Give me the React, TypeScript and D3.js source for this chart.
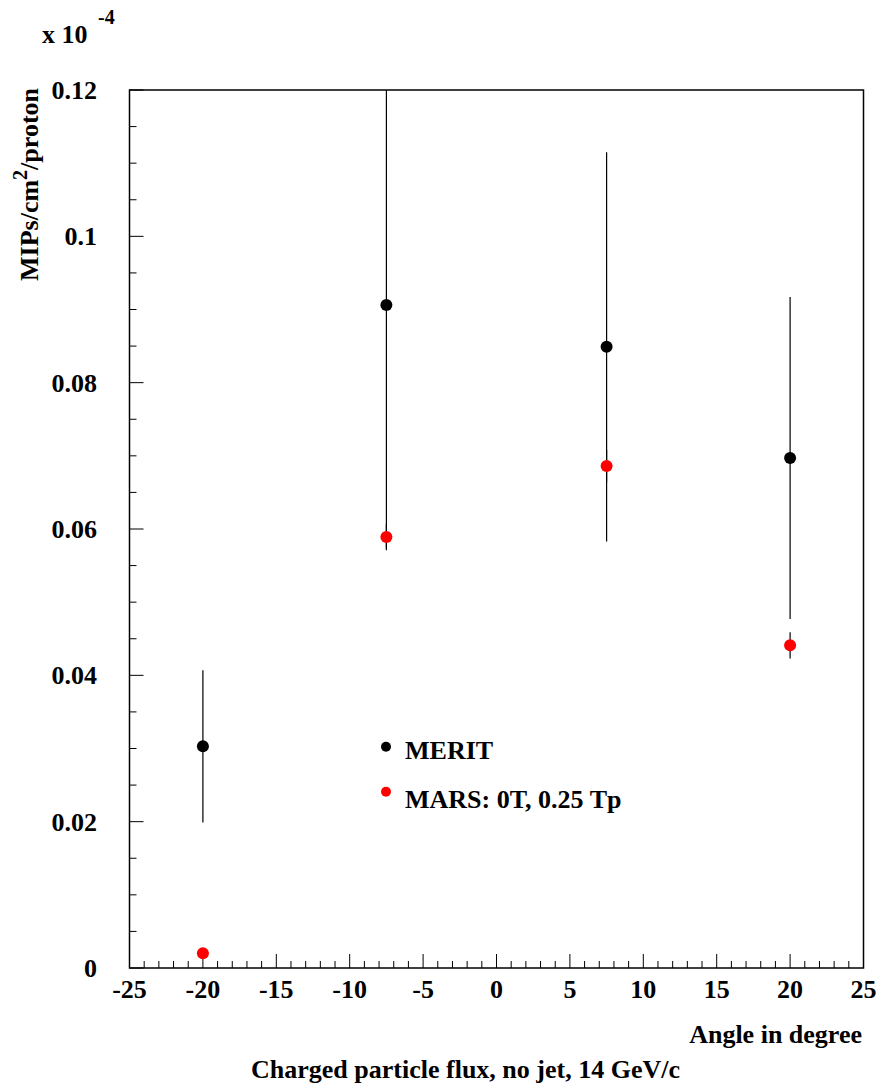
import React from "react";
import * as d3 from "d3";

const angles = [-20, -7.5, 7.5, 20];
const meritValues = [0.0303, 0.0906, 0.0849, 0.0697];
const meritErrors = [0.0104, 0.0333, 0.0266, 0.022];
const marsValues = [0.0020, 0.0589, 0.0686, 0.0441];
const marsErrors = [0.0003, 0.0018, 0.0022, 0.0018];
const xMajorTicks = [-25, -20, -15, -10, -5, 0, 5, 10, 15, 20, 25];
const yMajorTicks = [0, 0.02, 0.04, 0.06, 0.08, 0.1, 0.12];
const yTickLabels = ["0", "0.02", "0.04", "0.06", "0.08", "0.1", "0.12"];
const legendLabels = ["MERIT", "MARS: 0T, 0.25 Tp"];
const seriesColors = ["#000000", "#ff0000"];

const FONT = "'Liberation Serif', 'Times New Roman', serif";

export default function App() {
  const left = 129.5, right = 863.5, top = 90, bottom = 968;
  const x = d3.scaleLinear().domain([-25, 25]).range([left, right]);
  const y = d3.scaleLinear().domain([0, 0.12]).range([bottom, top]);
  const xMinor = d3.range(-25, 25.001, 1).filter((v) => !xMajorTicks.includes(v));
  const yMinor = d3.range(0, 0.12001, 0.005).filter(
    (v) => !yMajorTicks.some((m) => Math.abs(m - v) < 1e-9)
  );

  const series = [
    { vals: meritValues, errs: meritErrors, color: seriesColors[0] },
    { vals: marsValues, errs: marsErrors, color: seriesColors[1] },
  ];

  return (
    <svg
      width={896}
      height={1090}
      style={{ position: "absolute", left: 0, top: 0, background: "#fff" }}
      fontFamily={FONT}
      fontWeight="bold"
    >
      <rect x={0} y={0} width={896} height={1090} fill="#fff" />
      <defs>
        <clipPath id="plotclip">
          <rect x={left} y={top} width={right - left} height={bottom - top} />
        </clipPath>
      </defs>

      {/* frame */}
      <rect
        x={left}
        y={top}
        width={right - left}
        height={bottom - top}
        fill="none"
        stroke="#000"
        strokeWidth={1.5}
      />

      {/* x ticks */}
      {xMajorTicks.map((t) => (
        <line key={"xm" + t} x1={x(t)} x2={x(t)} y1={bottom} y2={bottom - 14} stroke="#000" strokeWidth={1} />
      ))}
      {xMinor.map((t) => (
        <line key={"xn" + t} x1={x(t)} x2={x(t)} y1={bottom} y2={bottom - 7} stroke="#000" strokeWidth={1} />
      ))}
      {xMajorTicks.map((t) => (
        <text key={"xl" + t} x={x(t)} y={998} fontSize={26} textAnchor="middle">
          {t}
        </text>
      ))}

      {/* y ticks */}
      {yMajorTicks.map((t) => (
        <line key={"ym" + t} x1={left} x2={left + 14} y1={y(t)} y2={y(t)} stroke="#000" strokeWidth={1} />
      ))}
      {yMinor.map((t) => (
        <line key={"yn" + t} x1={left} x2={left + 7} y1={y(t)} y2={y(t)} stroke="#000" strokeWidth={1} />
      ))}
      {yMajorTicks.map((t, i) => (
        <text key={"yl" + t} x={97} y={y(t)} dy="0.35em" fontSize={26} textAnchor="end">
          {yTickLabels[i]}
        </text>
      ))}

      {/* data */}
      <g clipPath="url(#plotclip)">
        {series.map((s, si) =>
          angles.map((a, i) => (
            <line
              key={"e" + si + "-" + i}
              x1={x(a)}
              x2={x(a)}
              y1={y(s.vals[i] + s.errs[i])}
              y2={y(s.vals[i] - s.errs[i])}
              stroke="#000"
              strokeWidth={1.2}
            />
          ))
        )}
        {series.map((s, si) =>
          angles.map((a, i) => (
            <circle key={"p" + si + "-" + i} cx={x(a)} cy={y(s.vals[i])} r={6} fill={s.color} />
          ))
        )}
      </g>

      {/* legend */}
      {legendLabels.map((l, i) => (
        <g key={"lg" + i}>
          <circle cx={386} cy={746.7 + i * 45} r={5} fill={seriesColors[i]} />
          <text x={405} y={759 + i * 49} fontSize={26}>
            {l}
          </text>
        </g>
      ))}

      {/* axis titles */}
      <text x={862} y={1043} fontSize={26} textAnchor="end">
        Angle in degree
      </text>
      <text x={465.5} y={1078} fontSize={26} textAnchor="middle">
        Charged particle flux, no jet, 14 GeV/c
      </text>
      <text transform="translate(38,88) rotate(-90)" fontSize={26} textAnchor="end">
        MIPs/cm
        <tspan fontSize={20} dy={-11}>2</tspan>
        <tspan dy={11}>/proton</tspan>
      </text>
      <text x={42} y={43} fontSize={26}>
        x 10
      </text>
      <text x={98} y={24} fontSize={20}>
        -4
      </text>
    </svg>
  );
}
